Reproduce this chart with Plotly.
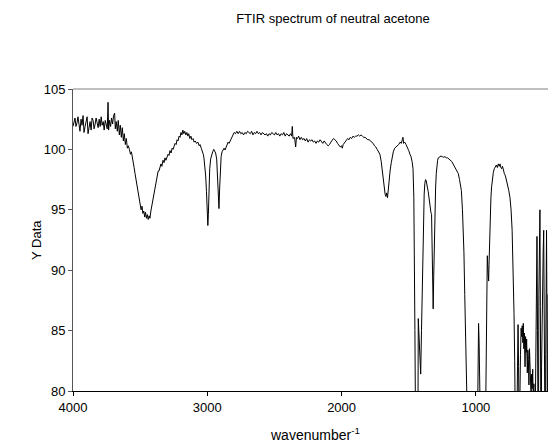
import plotly.graph_objects as go

wavenumber = [
    4000, 3992, 3985, 3978, 3970, 3963, 3955, 3948, 3940, 3933, 3925, 3918, 3910, 3903, 3895, 3888,
    3880, 3873, 3865, 3858, 3850, 3843, 3835, 3828, 3820, 3813, 3805, 3798, 3790, 3783, 3775, 3768,
    3760, 3752, 3745, 3739, 3735, 3728, 3720, 3713, 3705, 3698, 3690, 3685, 3678, 3670, 3663, 3655,
    3648, 3640, 3633, 3625, 3618, 3610, 3603, 3595, 3588, 3580, 3572, 3565, 3558, 3551, 3545, 3538,
    3532, 3526, 3519, 3512, 3505, 3500, 3493, 3486, 3480, 3473, 3466, 3460, 3453, 3446, 3440, 3433,
    3427, 3420, 3413, 3407, 3400, 3393, 3386, 3380, 3373, 3366, 3360, 3352, 3345, 3338, 3330, 3322,
    3315, 3308, 3300, 3292, 3285, 3278, 3270, 3262, 3255, 3248, 3240, 3232, 3225, 3218, 3210, 3203,
    3196, 3189, 3182, 3175, 3168, 3160, 3152, 3145, 3138, 3130, 3122, 3115, 3106, 3098, 3090, 3080,
    3070, 3060, 3054, 3045, 3038, 3030, 3025, 3018, 3012, 3006, 3000, 2996, 2992, 2987, 2982, 2975,
    2967, 2960, 2952, 2945, 2938, 2930, 2924, 2918, 2913, 2908, 2903, 2897, 2890, 2882, 2875, 2868,
    2860, 2853, 2845, 2838, 2830, 2822, 2815, 2808, 2800, 2790, 2780, 2770, 2760, 2750, 2740, 2730,
    2720, 2710, 2700, 2690, 2680, 2670, 2660, 2650, 2640, 2630, 2620, 2610, 2600, 2590, 2580, 2570,
    2560, 2550, 2540, 2530, 2520, 2510, 2500, 2490, 2480, 2470, 2460, 2450, 2440, 2430, 2420, 2410,
    2400, 2390, 2380, 2372, 2367, 2362, 2350, 2342, 2336, 2328, 2320, 2310, 2300, 2290, 2280, 2270,
    2260, 2250, 2240, 2230, 2220, 2210, 2200, 2190, 2180, 2170, 2160, 2150, 2140, 2130, 2120, 2110,
    2100, 2090, 2080, 2070, 2060, 2050, 2040, 2030, 2020, 2010, 2000, 1995, 1988, 1975, 1965, 1955,
    1945, 1935, 1925, 1915, 1905, 1895, 1885, 1875, 1865, 1855, 1845, 1835, 1825, 1815, 1805, 1795,
    1785, 1775, 1765, 1755, 1745, 1735, 1725, 1715, 1705, 1698, 1690, 1683, 1676, 1670, 1664, 1658,
    1652, 1645, 1638, 1630, 1622, 1615, 1605, 1595, 1585, 1575, 1565, 1555, 1548, 1543, 1538, 1530,
    1520, 1510, 1500, 1491, 1483, 1475, 1468, 1462, 1458, 1454, 1450, 1440, 1432, 1429, 1424, 1418,
    1411, 1405, 1400, 1395, 1390, 1385, 1380, 1375, 1370, 1365, 1360, 1355, 1350, 1345, 1340, 1335,
    1330, 1326, 1322, 1318, 1314, 1310, 1305, 1300, 1295, 1290, 1285, 1280, 1270, 1260, 1250, 1240,
    1230, 1220, 1210, 1200, 1190, 1180, 1170, 1160, 1150, 1140, 1131, 1122, 1115, 1108, 1100, 1094,
    1089, 1083, 1078, 1074, 1060, 1040, 1020, 1000, 990, 985, 980, 976, 972, 966, 950, 935,
    926, 922, 918, 915, 912, 909, 905, 902, 898, 893, 888, 883, 877, 870, 863, 856,
    848, 840, 833, 826, 820, 814, 808, 802, 796, 788, 780, 771, 763, 755, 746, 738,
    730, 722, 716, 711, 706, 700, 696, 690, 686, 682, 678, 674, 668, 663, 659, 655,
    650, 647, 643, 639, 634, 630, 626, 622, 617, 613, 609, 605, 601, 597, 593, 589,
    585, 581, 577, 572, 568, 564, 560, 556, 552, 548, 545, 541, 538, 535, 531, 528,
    525, 523, 520, 517, 514, 511, 507, 503, 499, 495, 491, 487, 483, 480, 477, 474,
    470, 467, 463,
]

transmittance = [
    101.9, 102.4, 102.6, 101.9, 102.2, 102.7, 101.7, 101.5, 102.5, 102.0, 102.8, 101.4, 101.9, 102.5, 102.7, 101.3,
    101.8, 102.3, 101.6, 102.6, 102.4, 101.7, 102.1, 102.6, 102.2, 101.8, 102.5, 101.9, 102.7, 102.0, 102.3, 101.6,
    102.4, 102.1, 101.7, 103.9, 101.6, 102.4, 101.9, 102.6, 102.1, 102.8, 103.0, 101.7, 102.3, 101.5, 102.4, 101.2,
    102.0, 101.0, 101.8, 100.7, 101.3, 100.4, 100.9, 100.1, 100.3, 100.0, 99.6, 99.8, 99.2, 98.9, 98.5, 98.0,
    97.6, 97.2, 96.5, 96.1, 95.8, 95.5, 95.0, 95.3, 94.7, 94.9, 94.4, 94.8, 94.3, 94.6, 94.2, 94.5,
    94.3, 94.9, 95.3, 95.8, 96.2, 96.6, 97.1, 97.4, 97.9, 98.2, 98.2, 98.5, 98.8, 98.6, 99.1, 98.9,
    99.3, 99.1, 99.4, 99.6, 99.5, 99.9, 99.7, 100.1, 100.0, 100.3, 100.5, 100.4, 100.8, 100.7, 101.1, 101.0,
    101.4, 101.2, 101.6, 101.3, 101.5, 101.2, 101.4, 101.1, 101.3, 100.9, 101.1, 100.8, 100.9, 100.6, 100.7, 100.5,
    100.6, 100.3, 100.4, 100.1, 99.9, 99.6, 99.3, 98.6, 97.8, 96.5, 94.8, 93.7, 94.6, 96.8, 98.4, 99.2,
    99.6, 99.8, 100.0, 99.9, 99.7, 99.2, 97.5, 95.6, 95.1, 96.8, 98.6, 99.4, 99.8, 100.0, 100.1, 99.95,
    100.2, 100.4, 100.6, 100.5, 100.7, 100.9, 101.1, 101.2, 101.4, 101.3, 101.5, 101.3, 101.5, 101.3, 101.4, 101.2,
    101.4, 101.3, 101.5, 101.4, 101.3, 101.5, 101.2, 101.4, 101.3, 101.5, 101.3, 101.4, 101.2, 101.4, 101.3, 101.2,
    101.3, 101.1, 101.3, 101.2, 101.4, 101.3, 101.2, 101.4, 101.2, 101.3, 101.1, 101.3, 101.2, 101.4, 101.1, 101.3,
    101.2, 101.1, 101.3, 101.1, 101.9, 100.9, 101.0, 100.2, 101.0, 100.9, 101.1, 100.8, 101.0, 100.8, 100.9, 100.7,
    100.9, 100.6, 100.8, 100.7, 100.8, 100.6, 100.7, 100.5, 100.7, 100.6, 100.8, 100.6, 100.5, 100.7, 100.5, 100.4,
    100.3, 100.4, 100.6, 100.8, 100.9, 100.8, 100.7, 100.5, 100.3, 100.2, 100.3, 100.1, 100.4, 100.6, 100.8, 100.9,
    100.8, 101.0, 100.9, 101.1, 101.0, 101.1, 101.1, 101.2, 101.1, 101.2, 101.1, 101.0, 101.0, 100.9, 100.8, 100.8,
    100.7, 100.6, 100.5, 100.3, 100.2, 100.0, 99.8, 99.6, 99.0, 98.3, 97.5, 96.8, 96.3, 96.1, 96.4, 96.0,
    96.9, 97.6, 98.3, 98.9, 99.4, 99.8, 100.1, 100.2, 100.3, 100.4, 100.6, 100.5, 100.8, 101.0, 100.5, 100.6,
    100.4, 100.2, 99.9, 99.6, 99.4, 99.0, 98.4, 96.0, 92.0, 85.0, 78.0, 70.0, 75.0, 86.0, 84.5, 82.0,
    81.4, 85.0, 88.5, 91.5, 94.2, 96.3, 97.2, 97.5, 97.4, 97.2, 96.8, 96.5, 96.0, 95.3, 95.1, 94.8,
    94.6, 92.0, 88.0, 86.8, 89.5, 92.6, 94.7, 96.8, 98.0, 98.7, 99.1, 99.3, 99.4, 99.45, 99.4, 99.35,
    99.4, 99.3, 99.3, 99.2, 99.1, 99.0, 98.8, 98.6, 98.4, 98.2, 98.0, 97.5, 97.1, 96.6, 95.0, 93.5,
    91.5, 88.0, 83.0, 79.0, 70.0, 65.0, 65.0, 68.0, 75.0, 80.5, 85.6, 84.0, 80.0, 72.0, 65.0, 70.0,
    79.0, 84.5, 88.5, 91.2, 90.5, 89.8, 89.1, 90.5, 93.0, 94.8, 96.0, 96.9, 97.6, 98.1, 98.4, 98.6,
    98.7, 98.5, 98.8, 98.6, 98.8, 98.5, 98.4, 98.6, 98.2, 98.0, 97.8, 97.4, 97.0, 96.6, 96.0, 95.0,
    93.3, 90.0, 86.4, 82.5, 79.0, 70.0, 76.0, 82.0, 85.5, 82.0, 76.0, 78.0, 83.0, 85.2, 84.5, 85.4,
    84.0, 85.6, 83.5, 84.8, 82.0, 84.5, 83.2, 84.3, 81.5, 83.4, 82.6, 80.5, 83.5, 81.8, 82.4, 79.5,
    81.4, 80.2, 81.8, 79.0, 80.6, 76.0, 72.0, 80.0, 86.7, 90.0, 92.8, 85.0, 75.0, 72.0, 88.0, 93.1,
    94.0, 95.0, 87.0, 75.0, 72.0, 82.0, 86.5, 88.0, 91.5, 93.3, 87.0, 78.0, 72.0, 83.0, 90.0, 93.3,
    85.0, 75.0, 88.0,
]

x_ticks = [4000, 3000, 2000, 1000]
y_ticks = [80, 85, 90, 95, 100, 105]

FONT = "Liberation Sans, Arial, sans-serif"

fig = go.Figure()
fig.add_trace(go.Scatter(
    x=wavenumber, y=transmittance, mode="lines",
    line=dict(color="black", width=1),
    showlegend=False, hoverinfo="x+y",
))

fig.update_layout(
    width=548, height=444,
    margin=dict(l=73, r=0, t=89, b=53),
    paper_bgcolor="white", plot_bgcolor="white",
    font=dict(family=FONT, size=13, color="black"),
    title=dict(text="FTIR spectrum of neutral acetone", x=333/548, xref="container",
               xanchor="center", y=1 - 18/444, yref="container", yanchor="middle",
               font=dict(family=FONT, size=13, color="black")),
    xaxis=dict(range=[4000, 463], tickvals=x_ticks, ticktext=[str(v) for v in x_ticks],
               showgrid=False, zeroline=False, showline=True, linecolor="black", linewidth=1,
               ticks="outside", ticklen=4, tickcolor="black", tickfont=dict(size=13)),
    yaxis=dict(range=[80, 105], tickvals=y_ticks, showgrid=False, zeroline=False,
               showline=True, linecolor="#555555", linewidth=1,
               ticks="outside", ticklen=4, tickcolor="#555555", tickfont=dict(size=13)),
    shapes=[dict(type="line", xref="paper", yref="paper", x0=0, x1=1, y0=1, y1=1,
                 line=dict(color="#808080", width=1))],
    annotations=[
        dict(text="wavenumber<sup>-1</sup>", xref="paper", yref="paper", x=(315 - 73) / 475,
             y=-(434 - 391) / 302, xanchor="center", yanchor="middle", showarrow=False,
             font=dict(family=FONT, size=14, color="black")),
        dict(text="Y Data", xref="paper", yref="paper", x=-(73 - 36) / 475, y=0.5,
             xanchor="center", yanchor="middle", textangle=-90, showarrow=False,
             font=dict(family=FONT, size=13, color="black")),
    ],
)

fig.write_html("out.html")
